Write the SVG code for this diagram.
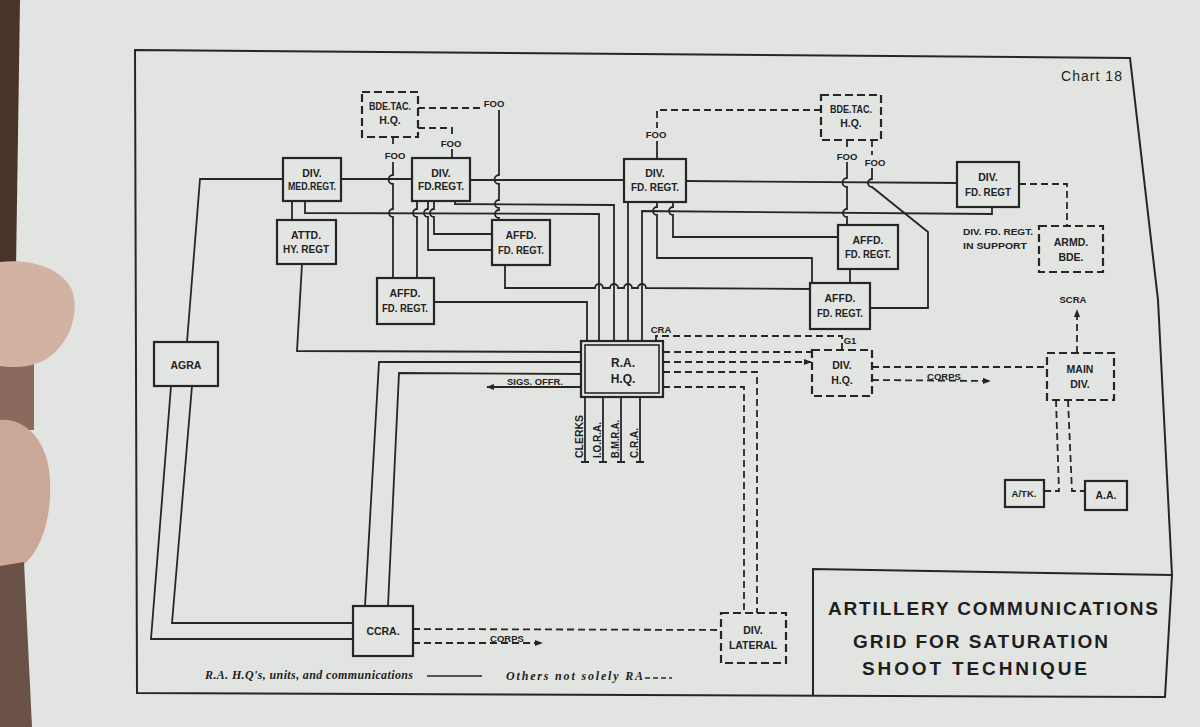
<svg xmlns="http://www.w3.org/2000/svg" width="1200" height="727" viewBox="0 0 1200 727">
<defs>
<marker id="ah" viewBox="0 0 10 10" refX="9" refY="5" markerWidth="8" markerHeight="8" orient="auto" markerUnits="userSpaceOnUse"><path d="M0,1 L10,5 L0,9 Z" fill="#262626"/></marker>
<style>
.ln{fill:none;stroke:#262626;stroke-width:1.8}
.ds{stroke-dasharray:7 4}
.bx{fill:#e3e5e2;stroke:#262626;stroke-width:2.2}
.bd{fill:#e3e5e2;stroke:#262626;stroke-width:2.2;stroke-dasharray:8 4}
.t{font-family:"Liberation Sans",Arial,sans-serif;font-weight:bold;font-size:10.5px;fill:#222;text-anchor:middle}
.s{font-family:"Liberation Sans",Arial,sans-serif;font-weight:bold;font-size:9.5px;fill:#222;text-anchor:middle}
.v{font-family:"Liberation Sans",Arial,sans-serif;font-weight:bold;font-size:10.5px;fill:#222}
.ttl{font-family:"Liberation Sans",Arial,sans-serif;font-weight:bold;font-size:19px;fill:#1e1e1e}
.lg{font-family:"Liberation Serif","Times New Roman",serif;font-style:italic;font-weight:bold;font-size:12px;fill:#222}
</style>
</defs>
<rect width="1200" height="727" fill="#e2e4e1"/>
<g id="background">
<path d="M0,0 H20 L16,268 H0 Z" fill="#4a3428"/>
<rect x="0" y="350" width="34" height="80" fill="#8a6a5c"/>
<path d="M0,262 C30,258 62,268 72,290 C80,312 70,345 45,360 C30,368 12,368 0,366 Z" fill="#d2b2a2"/>
<path d="M0,420 C25,418 48,440 50,480 C52,520 40,552 22,566 L0,570 Z" fill="#cba797"/>
<path d="M0,566 L24,562 L32,727 H0 Z" fill="#6a5248"/>
</g>
<g id="frame" fill="none" stroke="#262626" stroke-width="2">
<path d="M135,50 L1130,58 L1158,300 L1172,575 L1165,697 L137,693 Z"/>
<path d="M813,695 L813,569 L1172,575"/>
</g>
<g id="connectors" class="ln">
<path d="M187,342 L200,179 L283,179"/>
<path d="M341,179 L412,179"/>
<path d="M470,180 L624,180"/>
<path d="M686,181 L957,183"/>
<path d="M292,201 L292,220"/>
<path d="M305,201 L305,213 L599,214 L599,341"/>
<path d="M455,201 L455,204 L614,205 L614,341"/>
<path d="M628,202 L628,341"/>
<path d="M992,207 L992,214 L642,211 L642,341"/>
<path d="M302,264 L297,351 L581,352"/>
<path d="M434,302 L587,302 L587,341"/>
<path d="M365,606 L379,362 L581,362"/>
<path d="M388,606 L399,373 L581,374"/>
<path d="M353,623 L172,623 L192,386"/>
<path d="M353,639 L151,639 L171,386"/>
<path d="M581,387 L487,387" marker-end="url(#ah)"/>
<path d="M585,397 V462 M581,462 H589 M603,397 V462 M599,462 H607 M621,397 V462 M617,462 H625 M640,397 V462 M636,462 H644"/>
<path d="M657,202 L657,207 A4,4 0 0 0 657,215 L657,258 L812,258 L812,283"/>
<path d="M673,202 L673,207 A4,4 0 0 0 673,215 L673,237 L838,237"/>
<path d="M850,269 L850,283"/>
<path d="M505,265 L505,288 L595,288 A4,4 0 0 1 603,288 L610,288 A4,4 0 0 1 618,288 L624,288 A4,4 0 0 1 632,288 L638,288 A4,4 0 0 1 646,288 L810,289"/>
<path d="M870,308 L928,308 L928,232 L872,187 A4,4 0 0 1 872,179 L872,168"/>
<path d="M847,162 L847,178 A4,4 0 0 0 847,187 L847,209 A4,4 0 0 0 847,217 L847,225"/>
<path d="M499,110 L499,175 A4,4 0 0 0 499,184 L499,200 A4,4 0 0 0 499,208 L499,210 A4,4 0 0 0 499,218 L499,220"/>
<path d="M452,149 L452,158"/>
<path d="M393,162 L393,175 A4,4 0 0 0 393,184 L393,209 A4,4 0 0 0 393,217 L393,278"/>
<path d="M417,201 L417,209 A4,4 0 0 0 417,217 L417,278"/>
<path d="M428,201 L428,209 A4,4 0 0 0 428,217 L428,250 L492,250"/>
<path d="M434,201 L434,209 A4,4 0 0 0 434,217 L434,234 L492,234"/>
<path d="M657,141 L657,159"/>
<g class="ds">
<path d="M418,108 L482,108"/>
<path d="M418,128 L452,128 L452,138"/>
<path d="M393,137 L393,148"/>
<path d="M821,110 L657,110 L657,128"/>
<path d="M847,140 L847,150"/>
<path d="M872,140 L872,155"/>
<path d="M1019,184 L1067,184 L1067,226"/>
<path d="M656,341 L656,336 L842,336 L842,350"/>
<path d="M663,352 L812,352"/>
<path d="M663,362 L811,362" marker-end="url(#ah)"/>
<path d="M663,372 L757,372 L757,613"/>
<path d="M663,387 L744,387 L744,613"/>
<path d="M872,367 L1047,367"/>
<path d="M872,380 L990,381" marker-end="url(#ah)"/>
<path d="M1077,353 L1077,310" marker-end="url(#ah)"/>
<path d="M1056,400 L1059,491 L1044,491"/>
<path d="M1068,400 L1072,491 L1085,491"/>
<path d="M413,629 L721,630"/>
<path d="M413,643 L542,643" marker-end="url(#ah)"/>
</g>
</g>
<g id="labels">
<text class="s" x="494" y="107">FOO</text>
<text class="s" x="451" y="147">FOO</text>
<text class="s" x="395" y="159">FOO</text>
<text class="s" x="656" y="138">FOO</text>
<text class="s" x="847" y="160">FOO</text>
<text class="s" x="875" y="166">FOO</text>
<text class="s" x="661" y="333">CRA</text>
<text class="s" x="850" y="344">G1</text>
<text class="s" x="944" y="380">CORPS</text>
<text class="s" x="1073" y="303">SCRA</text>
<text class="s" x="507" y="642">CORPS</text>
<text class="s" x="535" y="385" textLength="56" lengthAdjust="spacingAndGlyphs">SIGS. OFFR.</text>
<text class="s" x="963" y="235" style="text-anchor:start" textLength="70" lengthAdjust="spacingAndGlyphs">DIV. FD. REGT.</text>
<text class="s" x="963" y="249" style="text-anchor:start" textLength="64" lengthAdjust="spacingAndGlyphs">IN SUPPORT</text>
<text class="v" transform="translate(583,458) rotate(-90)" textLength="43" lengthAdjust="spacingAndGlyphs">CLERKS</text>
<text class="v" transform="translate(601,458) rotate(-90)" textLength="36" lengthAdjust="spacingAndGlyphs">I.O.R.A.</text>
<text class="v" transform="translate(619,458) rotate(-90)" textLength="38" lengthAdjust="spacingAndGlyphs">B.M.R.A.</text>
<text class="v" transform="translate(638,458) rotate(-90)" textLength="30" lengthAdjust="spacingAndGlyphs">C.R.A.</text>
<text x="1061" y="81" style="font-family:'Liberation Sans',Arial,sans-serif;font-size:14px;fill:#222" textLength="61">Chart 18</text>
<text class="lg" x="205" y="679" textLength="208">R.A. H.Q's, units, and communications</text>
<path d="M427,676 L482,676" stroke="#262626" stroke-width="1.5"/>
<text class="lg" x="506" y="680" textLength="137">Others not solely RA</text>
<path d="M645,678 L672,678" stroke="#262626" stroke-width="1.5" stroke-dasharray="5 3"/>
<text class="ttl" x="828" y="615" textLength="330" lengthAdjust="spacing">ARTILLERY  COMMUNICATIONS</text>
<text class="ttl" x="853" y="648" textLength="255" lengthAdjust="spacing">GRID  FOR  SATURATION</text>
<text class="ttl" x="862" y="675" textLength="225" lengthAdjust="spacing">SHOOT  TECHNIQUE</text>
</g>
<g id="bde-tac-hq-1"><rect class="bd" x="362" y="92" width="56" height="45"/><text class="t" x="390" y="110" textLength="42" lengthAdjust="spacingAndGlyphs">BDE.TAC.</text><text class="t" x="390" y="124">H.Q.</text></g>
<g id="div-med-regt"><rect class="bx" x="283" y="158" width="58" height="43"/><text class="t" x="312" y="177">DIV.</text><text class="t" x="312" y="190" textLength="48" lengthAdjust="spacingAndGlyphs">MED.REGT.</text></g>
<g id="div-fd-regt-1"><rect class="bx" x="412" y="158" width="58" height="43"/><text class="t" x="441" y="177">DIV.</text><text class="t" x="441" y="190" textLength="46" lengthAdjust="spacingAndGlyphs">FD.REGT.</text></g>
<g id="attd-hy-regt"><rect class="bx" x="277" y="220" width="59" height="44"/><text class="t" x="306" y="239">ATTD.</text><text class="t" x="306" y="253" textLength="46" lengthAdjust="spacingAndGlyphs">HY. REGT</text></g>
<g id="affd-fd-regt-1"><rect class="bx" x="377" y="278" width="57" height="46"/><text class="t" x="405" y="297">AFFD.</text><text class="t" x="405" y="312" textLength="46" lengthAdjust="spacingAndGlyphs">FD. REGT.</text></g>
<g id="affd-fd-regt-2"><rect class="bx" x="492" y="220" width="58" height="45"/><text class="t" x="521" y="239">AFFD.</text><text class="t" x="521" y="254" textLength="46" lengthAdjust="spacingAndGlyphs">FD. REGT.</text></g>
<g id="agra"><rect class="bx" x="154" y="342" width="64" height="44"/><text class="t" x="186" y="369">AGRA</text></g>
<g id="div-fd-regt-2"><rect class="bx" x="624" y="159" width="62" height="43"/><text class="t" x="655" y="177">DIV.</text><text class="t" x="655" y="191" textLength="48" lengthAdjust="spacingAndGlyphs">FD. REGT.</text></g>
<g id="bde-tac-hq-2"><rect class="bd" x="821" y="95" width="60" height="45"/><text class="t" x="851" y="113" textLength="42" lengthAdjust="spacingAndGlyphs">BDE.TAC.</text><text class="t" x="851" y="127">H.Q.</text></g>
<g id="div-fd-regt-3"><rect class="bx" x="957" y="162" width="62" height="45"/><text class="t" x="988" y="181">DIV.</text><text class="t" x="988" y="196" textLength="46" lengthAdjust="spacingAndGlyphs">FD. REGT</text></g>
<g id="armd-bde"><rect class="bd" x="1039" y="226" width="64" height="46"/><text class="t" x="1071" y="246">ARMD.</text><text class="t" x="1071" y="261">BDE.</text></g>
<g id="affd-fd-regt-3"><rect class="bx" x="838" y="225" width="60" height="44"/><text class="t" x="868" y="244">AFFD.</text><text class="t" x="868" y="258" textLength="46" lengthAdjust="spacingAndGlyphs">FD. REGT.</text></g>
<g id="affd-fd-regt-4"><rect class="bx" x="810" y="283" width="60" height="46"/><text class="t" x="840" y="302">AFFD.</text><text class="t" x="840" y="317" textLength="46" lengthAdjust="spacingAndGlyphs">FD. REGT.</text></g>
<g id="ra-hq"><rect class="bx" x="581" y="341" width="82" height="56"/><rect fill="none" stroke="#262626" stroke-width="1.6" x="585" y="345" width="74" height="48"/><text class="t" x="623" y="367" style="font-size:12px">R.A.</text><text class="t" x="623" y="383" style="font-size:12px">H.Q.</text></g>
<g id="div-hq"><rect class="bd" x="812" y="350" width="60" height="46"/><text class="t" x="842" y="369">DIV.</text><text class="t" x="842" y="384">H.Q.</text></g>
<g id="main-div"><rect class="bd" x="1047" y="353" width="67" height="47"/><text class="t" x="1080" y="373">MAIN</text><text class="t" x="1080" y="388">DIV.</text></g>
<g id="a-tk"><rect class="bx" x="1005" y="480" width="39" height="27"/><text class="t" x="1024" y="497" style="font-size:9.5px">A/TK.</text></g>
<g id="aa"><rect class="bx" x="1085" y="481" width="42" height="29"/><text class="t" x="1106" y="499">A.A.</text></g>
<g id="ccra"><rect class="bx" x="353" y="606" width="60" height="50"/><text class="t" x="383" y="635">CCRA.</text></g>
<g id="div-lateral"><rect class="bd" x="721" y="613" width="65" height="50"/><text class="t" x="753" y="634">DIV.</text><text class="t" x="753" y="649">LATERAL</text></g>
</svg>
